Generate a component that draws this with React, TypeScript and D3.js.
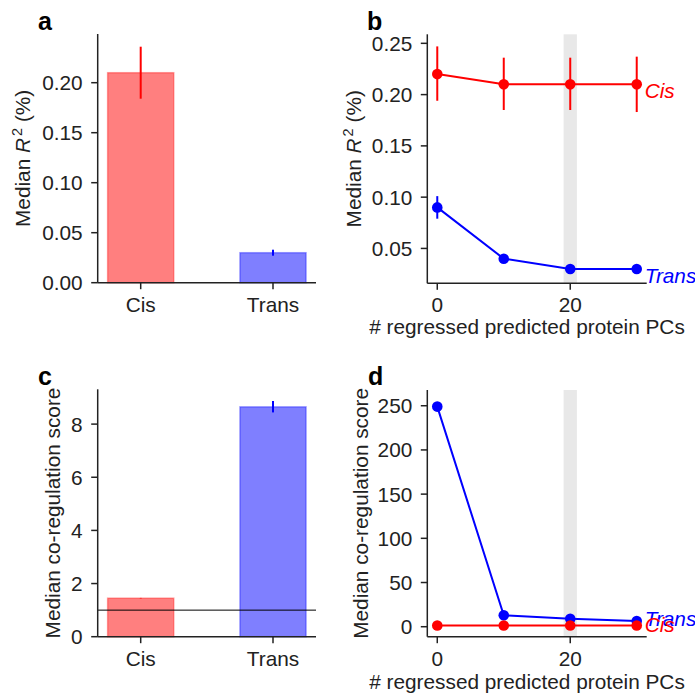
import React from 'react';
import * as d3 from 'd3';

// ---------- data ----------
const barCategories = ['Cis', 'Trans'];
const r2Median = [0.21, 0.03];
const r2Lo = [0.184, 0.027];
const r2Hi = [0.236, 0.033];

const coregMedian = [1.45, 8.65];
const coregLo = [1.44, 8.44];
const coregHi = [1.46, 8.87];
const coregReference = 1;

const nPCs = [0, 10, 20, 30];
const cisR2 = [0.22, 0.21, 0.21, 0.21];
const cisR2Lo = [0.194, 0.185, 0.185, 0.183];
const cisR2Hi = [0.247, 0.236, 0.236, 0.237];
const transR2 = [0.09, 0.04, 0.03, 0.03];
const transR2Lo = [0.079, 0.038, 0.029, 0.029];
const transR2Hi = [0.101, 0.042, 0.031, 0.031];

const cisCoreg = [1.4, 1.3, 1.3, 1.3];
const transCoreg = [249, 12.9, 9.0, 6.4];

const chosenBand = [19, 21];
const pcTicks = [0, 20];
const r2BarTicks = [0, 0.05, 0.1, 0.15, 0.2];
const r2LineTicks = [0.05, 0.1, 0.15, 0.2, 0.25];
const coregBarTicks = [0, 2, 4, 6, 8];
const coregLineTicks = [0, 50, 100, 150, 200, 250];

const xLabel = '# regressed predicted protein PCs';

// ---------- style ----------
const FONT = '"Liberation Sans", Arial, Helvetica, sans-serif';
const INK = '#222222';
const RED = '#ff0000';
const BLUE = '#0000ff';
const FS = 20.8;
const TICK = 6.5;

type Box = { x0: number; x1: number; y0: number; y1: number };

function YAxis({ box, scale, ticks, fmt, label, labelX }: any) {
  return (
    <g>
      <line x1={box.x0} x2={box.x0} y1={box.y0} y2={box.y1} stroke={INK} strokeWidth={1.5} />
      {ticks.map((t: number) => (
        <g key={t}>
          <line x1={box.x0 - TICK} x2={box.x0} y1={scale(t)} y2={scale(t)} stroke={INK} strokeWidth={1.5} />
          <text x={box.x0 - 15} y={scale(t) + 7.4} textAnchor="end" fontSize={FS} fill={INK} fontFamily={FONT}>
            {fmt(t)}
          </text>
        </g>
      ))}
      <text
        transform={`translate(${labelX},${(box.y0 + box.y1) / 2}) rotate(-90)`}
        textAnchor="middle"
        fontSize={FS}
        fill={INK}
        fontFamily={FONT}
      >
        {label}
      </text>
    </g>
  );
}

function XAxis({ box, scale, ticks, labels }: any) {
  return (
    <g>
      <line x1={box.x0} x2={box.x1} y1={box.y1} y2={box.y1} stroke={INK} strokeWidth={1.5} />
      {ticks.map((t: number, i: number) => (
        <g key={i}>
          <line x1={scale(t)} x2={scale(t)} y1={box.y1} y2={box.y1 + TICK} stroke={INK} strokeWidth={1.5} />
          <text x={scale(t)} y={box.y1 + 29} textAnchor="middle" fontSize={FS} fill={INK} fontFamily={FONT}>
            {labels ? labels[i] : String(t)}
          </text>
        </g>
      ))}
    </g>
  );
}

function PanelLetter({ x, y, t }: any) {
  return (
    <text x={x} y={y} fontSize={25} fontWeight="bold" fill="#000" fontFamily={FONT}>
      {t}
    </text>
  );
}

function BarPanel({ box, yDomain, values, lo, hi, ticks, fmt, label, labelX, refLine }: any) {
  const x = d3.scaleLinear().domain([-0.325, 1.325]).range([box.x0, box.x1]);
  const y = d3.scaleLinear().domain(yDomain).range([box.y1, box.y0]);
  const colors = [RED, BLUE];
  const w = 0.5;
  return (
    <g>
      {values.map((v: number, i: number) => (
        <rect
          key={i}
          x={x(i - w / 2)}
          y={y(v)}
          width={x(i + w / 2) - x(i - w / 2)}
          height={y(0) - y(v)}
          fill={colors[i]}
          fillOpacity={0.5}
          stroke={colors[i]}
          strokeOpacity={0.35}
          strokeWidth={1.5}
        />
      ))}
      {values.map((v: number, i: number) => (
        <line key={'e' + i} x1={x(i)} x2={x(i)} y1={y(lo[i])} y2={y(hi[i])} stroke={colors[i]} strokeWidth={2} />
      ))}
      {refLine !== undefined && (
        <line x1={box.x0} x2={box.x1} y1={y(refLine)} y2={y(refLine)} stroke="#000" strokeWidth={1} />
      )}
      <YAxis box={box} scale={y} ticks={ticks} fmt={fmt} label={label} labelX={labelX} />
      <XAxis box={box} scale={x} ticks={[0, 1]} labels={barCategories} />
    </g>
  );
}

function LinePanel({ box, yDomain, series, ticks, fmt, label, labelX, xLabelDy }: any) {
  const x = d3.scaleLinear().domain([-1.5, 31.5]).range([box.x0, box.x1]);
  const y = d3.scaleLinear().domain(yDomain).range([box.y1, box.y0]);
  const line = d3
    .line<number>()
    .x((_, i) => x(nPCs[i]))
    .y((d) => y(d));
  return (
    <g>
      <rect x={x(chosenBand[0])} y={box.y0} width={x(chosenBand[1]) - x(chosenBand[0])} height={box.y1 - box.y0} fill="#e8e8e8" />
      {series.map((s: any, k: number) => (
        <g key={k}>
          {s.lo &&
            s.values.map((v: number, i: number) => (
              <line key={i} x1={x(nPCs[i])} x2={x(nPCs[i])} y1={y(s.lo[i])} y2={y(s.hi[i])} stroke={s.color} strokeWidth={2} />
            ))}
          <path d={line(s.values) || ''} fill="none" stroke={s.color} strokeWidth={2} />
          {s.values.map((v: number, i: number) => (
            <circle key={'c' + i} cx={x(nPCs[i])} cy={y(v)} r={5.3} fill={s.color} />
          ))}
          <text
            x={x(nPCs[nPCs.length - 1]) + 8}
            y={y(s.values[s.values.length - 1]) + s.dy}
            fontSize={FS}
            fontStyle="italic"
            fill={s.color}
            fontFamily={FONT}
          >
            {s.name}
          </text>
        </g>
      ))}
      <YAxis box={box} scale={y} ticks={ticks} fmt={fmt} label={label} labelX={labelX} />
      <XAxis box={box} scale={x} ticks={pcTicks} />
      <text x={527} y={box.y1 + xLabelDy} textAnchor="middle" fontSize={FS} fill={INK} fontFamily={FONT}>
        {xLabel}
      </text>
    </g>
  );
}

const r2Label = (
  <>
    Median <tspan fontStyle="italic">R</tspan>
    <tspan dx={2} dy={-8} fontSize={14.5}>2</tspan>
    <tspan dy={8}> (%)</tspan>
  </>
);

export default function App() {
  const boxA: Box = { x0: 97.7, x1: 316, y0: 34, y1: 282.7 };
  const boxB: Box = { x0: 427.3, x1: 646.7, y0: 34.3, y1: 283.3 };
  const boxC: Box = { x0: 97.7, x1: 316, y0: 389.3, y1: 636.7 };
  const boxD: Box = { x0: 427.3, x1: 646.7, y0: 390, y1: 636.7 };
  const f2 = d3.format('.2f');
  const f0 = d3.format('d');
  return (
    <svg
      width={695}
      height={696}
      style={{ position: 'absolute', left: 0, top: 0, background: '#fff' }}
      fontFamily={FONT}
    >
      <rect width={695} height={696} fill="#fff" />
      <BarPanel
        box={boxA}
        yDomain={[0, 0.2487]}
        values={r2Median}
        lo={r2Lo}
        hi={r2Hi}
        ticks={r2BarTicks}
        fmt={f2}
        label={r2Label}
        labelX={30}
      />
      <LinePanel
        box={boxB}
        yDomain={[0.016, 0.2588]}
        series={[
          { name: 'Cis', color: RED, values: cisR2, lo: cisR2Lo, hi: cisR2Hi, dy: 14 },
          { name: 'Trans', color: BLUE, values: transR2, lo: transR2Lo, hi: transR2Hi, dy: 14 },
        ]}
        ticks={r2LineTicks}
        fmt={f2}
        label={r2Label}
        labelX={361}
        xLabelDy={50.5}
      />
      <BarPanel
        box={boxC}
        yDomain={[0, 9.31]}
        values={coregMedian}
        lo={coregLo}
        hi={coregHi}
        ticks={coregBarTicks}
        fmt={f0}
        label="Median co-regulation score"
        labelX={59.5}
        refLine={coregReference}
      />
      <LinePanel
        box={boxD}
        yDomain={[-11.3, 267.8]}
        series={[
          { name: 'Trans', color: BLUE, values: transCoreg, dy: 5 },
          { name: 'Cis', color: RED, values: cisCoreg, dy: 6.5 },
        ]}
        ticks={coregLineTicks}
        fmt={f0}
        label="Median co-regulation score"
        labelX={368}
        xLabelDy={52.5}
      />
      <PanelLetter x={38} y={30} t="a" />
      <PanelLetter x={367} y={30} t="b" />
      <PanelLetter x={38} y={385} t="c" />
      <PanelLetter x={368} y={385} t="d" />
    </svg>
  );
}
